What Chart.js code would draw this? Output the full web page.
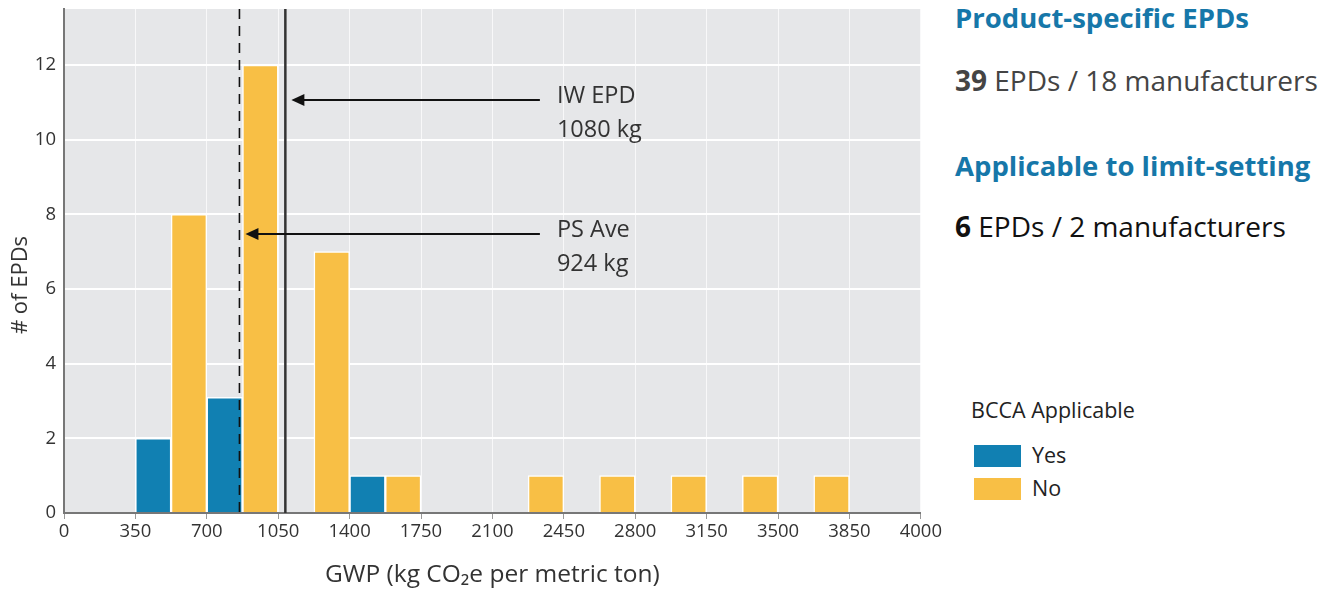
<!DOCTYPE html>
<html>
<head>
<meta charset="utf-8">
<script src="https://cdn.jsdelivr.net/npm/chart.js@4.4.1/dist/chart.umd.min.js"></script>
<style>
  html, body { margin: 0; padding: 0; background: #fff; }
  body { width: 1333px; height: 590px; position: relative; overflow: hidden; font-family: "Open Sans", sans-serif; }
  #wrap { position: absolute; left: 0; top: 0; width: 944px; height: 590px; }
  .panel { position: absolute; left: 955px; white-space: nowrap; line-height: 36px; }
  .h { color: #1677a9; font-weight: 700; font-size: 27.5px; }
  .s { font-size: 28px; }
  .legend-title { position: absolute; left: 971px; top: 395px; font-size: 21.5px; line-height: 30px; color: #222; }
  .li { position: absolute; left: 974px; font-size: 21.5px; line-height: 30px; color: #222; }
  .sw { display: inline-block; width: 47px; height: 22px; vertical-align: middle; margin-right: 11px; position: relative; top: -1px; }
</style>
</head>
<body>
<div id="wrap"><canvas id="c" width="944" height="590"></canvas></div>
<div class="panel h" style="top:0px;">Product-specific EPDs</div>
<div class="panel s" style="top:62px;color:#444;"><b>39</b> EPDs / 18 manufacturers</div>
<div class="panel h" style="top:148px;">Applicable to limit-setting</div>
<div class="panel s" style="top:208px;color:#111;"><b>6</b> EPDs / 2 manufacturers</div>
<div class="legend-title">BCCA Applicable</div>
<div id="legend"></div>
<script>
// ---- data ----
const binCenters = [525, 875, 1225, 1575, 1925, 2275, 2625, 2975, 3325, 3675];
const yesCounts = [2, 3.1, null, 1, null, null, null, null, null, null];
const noCounts  = [8, 12, 7, 1, null, 1, 1, 1, 1, 1];
const seriesNames = ['Yes', 'No'];
const seriesColors = ['#1180b2', '#f8bf45'];
const xTickValues = [0, 350, 700, 1050, 1400, 1750, 2100, 2450, 2800, 3150, 3500, 3850, 4200];
const xTickLabels = ['0', '350', '700', '1050', '1400', '1750', '2100', '2450', '2800', '3150', '3500', '3850', '4000'];
const yTickValues = [0, 2, 4, 6, 8, 10, 12];
const refLines = [
  { name: 'IW EPD', label: ['IW EPD', '1080 kg'], x: 1085, dashed: false, arrowY: 11.06, textX: 2416 },
  { name: 'PS Ave', label: ['PS Ave', '924 kg'], x: 860, dashed: true, arrowY: 7.47, textX: 2416 }
];

const FONT = '"Open Sans", sans-serif';

function pts(vals) { return binCenters.map((x, i) => ({ x: x, y: vals[i] })); }

// legend (HTML)
const legend = document.getElementById('legend');
seriesNames.forEach((n, i) => {
  const d = document.createElement('div');
  d.className = 'li';
  d.style.top = (440 + i * 33) + 'px';
  d.innerHTML = '<span class="sw" style="background:' + seriesColors[i] + '"></span>' + n;
  legend.appendChild(d);
});

const bgPlugin = {
  id: 'bg',
  beforeDraw(chart) {
    const { ctx, chartArea: a } = chart;
    ctx.save();
    ctx.fillStyle = '#e6e7e9';
    ctx.fillRect(a.left, a.top, a.right - a.left, a.bottom - a.top);
    ctx.restore();
  }
};

const refPlugin = {
  id: 'refs',
  afterDatasetsDraw(chart) {
    const { ctx, chartArea: a, scales: { x, y } } = chart;
    ctx.save();
    refLines.forEach(r => {
      const px = x.getPixelForValue(r.x);
      ctx.beginPath();
      ctx.strokeStyle = r.dashed ? '#111' : '#333';
      ctx.lineWidth = r.dashed ? 1.6 : 2.5;
      ctx.setLineDash(r.dashed ? [10, 7] : []);
      ctx.moveTo(px, a.top);
      ctx.lineTo(px, a.bottom);
      ctx.stroke();
      ctx.setLineDash([]);
      // arrow
      const ay = y.getPixelForValue(r.arrowY);
      const tip = px + 6;
      const tx = x.getPixelForValue(r.textX);
      ctx.strokeStyle = '#111';
      ctx.lineWidth = 2;
      ctx.beginPath();
      ctx.moveTo(tx - 17, ay);
      ctx.lineTo(tip + 10, ay);
      ctx.stroke();
      ctx.fillStyle = '#111';
      ctx.beginPath();
      ctx.moveTo(tip, ay);
      ctx.lineTo(tip + 13, ay - 6);
      ctx.lineTo(tip + 13, ay + 6);
      ctx.closePath();
      ctx.fill();
      ctx.font = '23.5px ' + FONT;
      ctx.fillStyle = '#333';
      ctx.textBaseline = 'middle';
      ctx.textAlign = 'left';
      ctx.fillText(r.label[0], tx, ay - 4);
      ctx.fillText(r.label[1], tx, ay + 30);
    });
    ctx.restore();
  },
  afterDraw(chart) {
    const { ctx, chartArea: a } = chart;
    ctx.save();
    ctx.translate(21, (a.top + a.bottom) / 2 + 24);
    ctx.rotate(-Math.PI / 2);
    ctx.font = '22px ' + FONT;
    ctx.fillStyle = '#333';
    ctx.textAlign = 'center';
    ctx.textBaseline = 'middle';
    ctx.fillText('# of EPDs', 0, 0);
    ctx.restore();
  }
};

new Chart(document.getElementById('c'), {
  type: 'bar',
  data: {
    datasets: [
      { label: seriesNames[0], data: pts(yesCounts), backgroundColor: seriesColors[0], borderColor: '#ffffff', borderWidth: 1.5, borderSkipped: 'bottom' },
      { label: seriesNames[1], data: pts(noCounts), backgroundColor: seriesColors[1], borderColor: '#ffffff', borderWidth: 1.5, borderSkipped: 'bottom' }
    ]
  },
  options: {
    responsive: false,
    animation: false,
    layout: { padding: { top: 9, right: 0, left: 0, bottom: 0 } },
    datasets: { bar: { categoryPercentage: 1, barPercentage: 1 } },
    plugins: { legend: { display: false }, tooltip: { enabled: false } },
    scales: {
      x: {
        type: 'linear',
        min: 0,
        max: 4200,
        offset: false,
        afterBuildTicks(s) { s.ticks = xTickValues.map(v => ({ value: v })); },
        afterFit(s) { s.height = 77; },
        ticks: {
          autoSkip: false,
          maxRotation: 0,
          padding: 2,
          color: '#333',
          font: { family: FONT, size: 18.5 },
          callback(v) { const i = xTickValues.indexOf(v); return i >= 0 ? xTickLabels[i] : ''; }
        },
        grid: { offset: false, color: 'rgba(255,255,255,0.7)', lineWidth: 1, tickColor: '#999', tickLength: 6, drawTicks: true },
        border: { display: true, color: '#777', width: 2 },
        title: { display: true, text: 'GWP (kg CO\u2082e per metric ton)', color: '#333', font: { family: FONT, size: 24.5 }, padding: { top: 6, bottom: 0 } }
      },
      y: {
        min: 0,
        max: 13.5,
        afterBuildTicks(s) { s.ticks = yTickValues.map(v => ({ value: v })); },
        afterFit(s) { s.width = 64; s.paddingTop = 0; s.paddingBottom = 0; },
        ticks: { padding: 8, color: '#333', font: { family: FONT, size: 18.5 } },
        grid: { color: '#ffffff', lineWidth: 2, drawTicks: false },
        border: { display: true, color: '#777', width: 2 }
      }
    }
  },
  plugins: [bgPlugin, refPlugin]
});
</script>
</body>
</html>
